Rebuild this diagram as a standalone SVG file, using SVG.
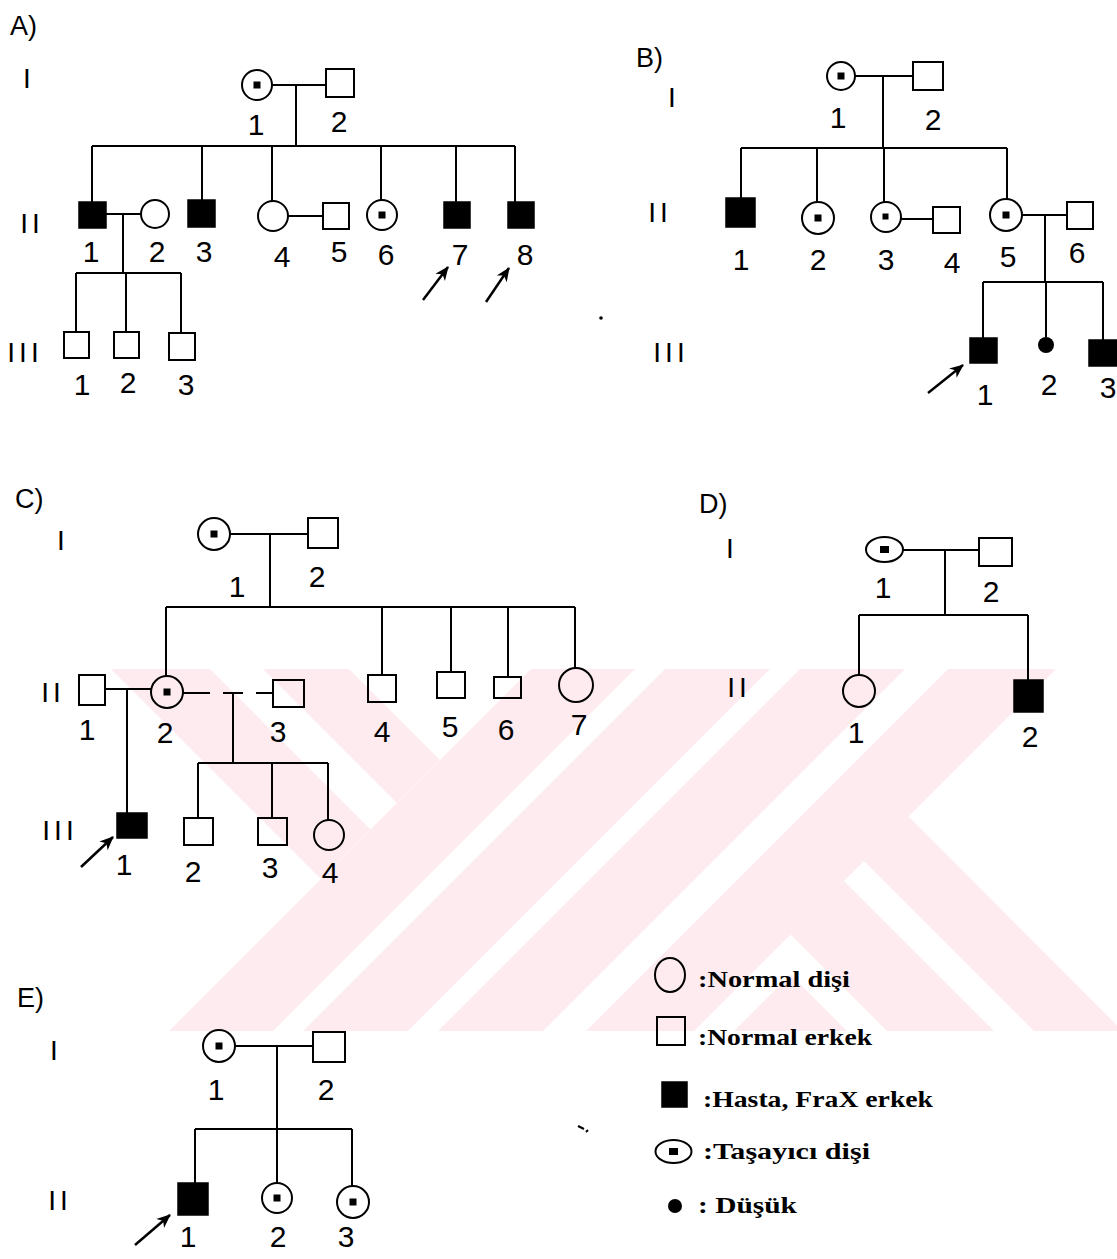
<svg xmlns="http://www.w3.org/2000/svg" width="1117" height="1259" viewBox="0 0 1117 1259">
<defs>
<style>
.ln{stroke:#000;stroke-width:2;fill:none}
.o{fill:none;stroke:#000;stroke-width:2}
.s{fill:#000;stroke:#000;stroke-width:1.5}
.k{fill:#000}
.t{font-family:"Liberation Sans",Arial,sans-serif;font-size:30px;fill:#000;text-anchor:middle}
.g{font-family:"Liberation Sans",Arial,sans-serif;font-size:28px;fill:#000;letter-spacing:4px;text-anchor:middle}
.h{font-family:"Liberation Sans",Arial,sans-serif;font-size:27px;fill:#000}
.lg{font-family:"Liberation Serif","Times New Roman",serif;font-weight:bold;font-size:24px;fill:#000}
.wm{fill:#fdebef}
.wh{fill:#fff}
.ar{stroke:#000;stroke-width:2.5;fill:none;marker-end:url(#ah)}
</style>
<marker id="ah" markerWidth="16" markerHeight="14" refX="13" refY="7" orient="auto" markerUnits="userSpaceOnUse"><path d="M0,1 L14,7 L0,13 L4,7 z" fill="#000"/></marker>
<clipPath id="wc"><rect x="100" y="669" width="1017" height="362"/></clipPath>
</defs>
<rect width="1117" height="1259" fill="#fff"/>

<g id="watermark" clip-path="url(#wc)">
<polygon class="wm" points="111,669 349,669 440,760 321,879"/>
<polygon class="wh" points="210,669 263,669 397,803 370.5,829.5"/>
<polygon class="wm" points="531,669 1056,669 694,1031 169,1031"/>
<polygon class="wh" points="635,669 665,669 303,1031 273,1031"/>
<polygon class="wh" points="770,669 800,669 438,1031 408,1031"/>
<polygon class="wh" points="905,669 948,669 586,1031 543,1031"/>
<polygon class="wm" points="908.5,816.5 1117,1025.5 1117,1031 887,1031 790.5,934.5"/>
<polygon class="wh" points="864,861 1034,1031 994,1031 844,881"/>
<polygon class="wm" points="790.5,974.5 847,1031 734,1031"/>
</g>

<g id="titles">
<text class="h" x="10" y="35">A)</text>
<text class="h" x="636" y="67">B)</text>
<text class="h" x="15" y="508">C)</text>
<text class="h" x="699" y="513">D)</text>
<text class="h" x="17" y="1007">E)</text>
</g>

<g id="generations">
<text class="g" x="29" y="88">I</text>
<text class="g" x="32" y="233">II</text>
<text class="g" x="25" y="362">III</text>
<text class="g" x="674" y="107">I</text>
<text class="g" x="660" y="222">II</text>
<text class="g" x="671" y="362">III</text>
<text class="g" x="63" y="550">I</text>
<text class="g" x="53" y="702">II</text>
<text class="g" x="60" y="840">III</text>
<text class="g" x="732" y="558">I</text>
<text class="g" x="739" y="697">II</text>
<text class="g" x="56" y="1060">I</text>
<text class="g" x="60" y="1210">II</text>
</g>

<g id="connectors">
<path class="ln" d="M272,85 H326 M296,85 V146 M92,146 H515 M92,146 V202 M202,146 V200 M272,146 V201 M381,146 V200 M456,146 V202 M515,146 V202 M106,214 H141 M123,214 V273 M76,273 H181 M76,273 V332 M126,273 V332 M181,273 V333 M288,216 H323"/>
<path class="ln" d="M855,76 H913 M883,76 V148 M741,148 H1007 M741,148 V198 M817,148 V202 M884,148 V202 M1007,148 V199 M901,219 H933 M1022,215 H1067 M1045,215 V282 M983,282 H1103 M983,282 V338 M1046,282 V337 M1103,282 V340"/>
<path class="ln" d="M230,534 H308 M270,534 V607 M166,607 H575 M166,607 V676 M382,607 V675 M451,607 V672 M508,607 V677 M575,607 V668 M105,689 H151 M127,689 V813 M183,693 H210 M223,693 H243 M233,693 V763 M256,693 H273 M198,763 H328 M198,763 V818 M272,763 V818 M328,763 V820"/>
<path class="ln" d="M903,550 H979 M945,550 V615 M859,615 H1028 M859,615 V675 M1028,615 V680"/>
<path class="ln" d="M235,1046 H313 M277,1046 V1129 M195,1129 H352 M195,1129 V1183 M277,1129 V1183 M352,1129 V1186"/>
<line class="ar" x1="423" y1="300" x2="448" y2="267"/>
<line class="ar" x1="486" y1="302" x2="509" y2="268"/>
<line class="ar" x1="928" y1="393" x2="963" y2="365"/>
<line class="ar" x1="81" y1="867" x2="113" y2="837"/>
<line class="ar" x1="135" y1="1245" x2="170" y2="1215"/>
</g>

<g id="A-I-1"><circle class="o" cx="257" cy="85" r="15"/><rect class="k" x="253.5" y="81.5" width="7" height="7"/><text class="t" x="256" y="135">1</text></g>
<g id="A-I-2"><rect class="o" x="326" y="69" width="28" height="28"/><text class="t" x="339" y="132">2</text></g>
<g id="A-II-1"><rect class="s" x="79" y="202" width="27" height="26"/><text class="t" x="91" y="262">1</text></g>
<g id="A-II-2"><circle class="o" cx="155" cy="214" r="14"/><text class="t" x="157" y="262">2</text></g>
<g id="A-II-3"><rect class="s" x="188" y="200" width="27" height="27"/><text class="t" x="204" y="262">3</text></g>
<g id="A-II-4"><circle class="o" cx="273" cy="216" r="15"/><text class="t" x="282" y="267">4</text></g>
<g id="A-II-5"><rect class="o" x="323" y="203" width="26" height="26"/><text class="t" x="339" y="262">5</text></g>
<g id="A-II-6"><circle class="o" cx="382" cy="215" r="15"/><rect class="k" x="378.5" y="211.5" width="7" height="7"/><text class="t" x="386" y="265">6</text></g>
<g id="A-II-7"><rect class="s" x="444" y="202" width="26" height="26"/><text class="t" x="460" y="265">7</text></g>
<g id="A-II-8"><rect class="s" x="508" y="202" width="26" height="26"/><text class="t" x="525" y="265">8</text></g>
<g id="A-III-1"><rect class="o" x="64" y="332" width="25" height="26"/><text class="t" x="82" y="395">1</text></g>
<g id="A-III-2"><rect class="o" x="114" y="332" width="25" height="26"/><text class="t" x="128" y="393">2</text></g>
<g id="A-III-3"><rect class="o" x="169" y="333" width="26" height="27"/><text class="t" x="186" y="395">3</text></g>

<g id="B-I-1"><circle class="o" cx="841" cy="76" r="14"/><rect class="k" x="837.5" y="72.5" width="7" height="7"/><text class="t" x="838" y="128">1</text></g>
<g id="B-I-2"><rect class="o" x="913" y="62" width="30" height="28"/><text class="t" x="933" y="130">2</text></g>
<g id="B-II-1"><rect class="s" x="726" y="198" width="29" height="29"/><text class="t" x="741" y="270">1</text></g>
<g id="B-II-2"><circle class="o" cx="818" cy="218" r="16"/><rect class="k" x="814.5" y="214.5" width="7" height="7"/><text class="t" x="818" y="270">2</text></g>
<g id="B-II-3"><circle class="o" cx="886" cy="217" r="15"/><rect class="k" x="882.5" y="213.5" width="6" height="6"/><text class="t" x="886" y="270">3</text></g>
<g id="B-II-4"><rect class="o" x="933" y="207" width="27" height="26"/><text class="t" x="952" y="273">4</text></g>
<g id="B-II-5"><circle class="o" cx="1006" cy="215" r="16"/><rect class="k" x="1002.5" y="211.5" width="7" height="7"/><text class="t" x="1008" y="267">5</text></g>
<g id="B-II-6"><rect class="o" x="1067" y="202" width="26" height="27"/><text class="t" x="1077" y="263">6</text></g>
<g id="B-III-1"><rect class="s" x="970" y="338" width="27" height="25"/><text class="t" x="985" y="405">1</text></g>
<g id="B-III-2"><circle class="k" cx="1046" cy="345" r="8"/><text class="t" x="1049" y="395">2</text></g>
<g id="B-III-3"><rect class="s" x="1089" y="340" width="28" height="26"/><text class="t" x="1108" y="398">3</text></g>

<g id="C-I-1"><circle class="o" cx="214" cy="534" r="16"/><rect class="k" x="210.5" y="530.5" width="7" height="7"/><text class="t" x="237" y="597">1</text></g>
<g id="C-I-2"><rect class="o" x="308" y="518" width="30" height="30"/><text class="t" x="317" y="587">2</text></g>
<g id="C-II-1"><rect class="o" x="79" y="675" width="26" height="30"/><text class="t" x="87" y="740">1</text></g>
<g id="C-II-2"><circle class="o" cx="167" cy="692" r="16"/><rect class="k" x="163.5" y="688.5" width="7" height="7"/><text class="t" x="165" y="743">2</text></g>
<g id="C-II-3"><rect class="o" x="273" y="680" width="31" height="27"/><text class="t" x="278" y="742">3</text></g>
<g id="C-II-4"><rect class="o" x="368" y="675" width="28" height="27"/><text class="t" x="382" y="742">4</text></g>
<g id="C-II-5"><rect class="o" x="437" y="672" width="28" height="26"/><text class="t" x="450" y="737">5</text></g>
<g id="C-II-6"><rect class="o" x="494" y="677" width="27" height="21"/><text class="t" x="506" y="740">6</text></g>
<g id="C-II-7"><circle class="o" cx="576" cy="685" r="17"/><text class="t" x="579" y="735">7</text></g>
<g id="C-III-1"><rect class="s" x="117" y="813" width="30" height="25"/><text class="t" x="124" y="875">1</text></g>
<g id="C-III-2"><rect class="o" x="184" y="818" width="29" height="27"/><text class="t" x="193" y="882">2</text></g>
<g id="C-III-3"><rect class="o" x="258" y="818" width="29" height="27"/><text class="t" x="270" y="878">3</text></g>
<g id="C-III-4"><circle class="o" cx="329" cy="835" r="15"/><text class="t" x="330" y="883">4</text></g>

<g id="D-I-1"><ellipse class="o" cx="884.5" cy="549.5" rx="18.5" ry="12.5"/><rect class="k" x="880" y="546" width="9" height="7"/><text class="t" x="883" y="598">1</text></g>
<g id="D-I-2"><rect class="o" x="979" y="538" width="33" height="28"/><text class="t" x="991" y="602">2</text></g>
<g id="D-II-1"><circle class="o" cx="859" cy="691" r="16"/><text class="t" x="856" y="743">1</text></g>
<g id="D-II-2"><rect class="s" x="1014" y="680" width="29" height="32"/><text class="t" x="1030" y="747">2</text></g>

<g id="E-I-1"><circle class="o" cx="219" cy="1046" r="16"/><rect class="k" x="215.5" y="1042.5" width="7" height="7"/><text class="t" x="216" y="1100">1</text></g>
<g id="E-I-2"><rect class="o" x="313" y="1032" width="32" height="30"/><text class="t" x="326" y="1100">2</text></g>
<g id="E-II-1"><rect class="s" x="178" y="1183" width="30" height="32"/><text class="t" x="188" y="1247">1</text></g>
<g id="E-II-2"><circle class="o" cx="277" cy="1198" r="15"/><rect class="k" x="273.5" y="1194.5" width="7" height="7"/><text class="t" x="278" y="1247">2</text></g>
<g id="E-II-3"><circle class="o" cx="353" cy="1202" r="16"/><rect class="k" x="349.5" y="1198.5" width="7" height="7"/><text class="t" x="346" y="1247">3</text></g>

<g id="legend-normal-female"><ellipse class="o" cx="670" cy="975" rx="15" ry="17"/><text class="lg" x="698" y="987" textLength="152" lengthAdjust="spacingAndGlyphs">:Normal dişi</text></g>
<g id="legend-normal-male"><rect class="o" x="657" y="1017" width="28" height="28"/><text class="lg" x="698" y="1045" textLength="174" lengthAdjust="spacingAndGlyphs">:Normal erkek</text></g>
<g id="legend-affected-male"><rect class="s" x="662" y="1082" width="25" height="25"/><text class="lg" x="703" y="1107" textLength="230" lengthAdjust="spacingAndGlyphs">:Hasta, FraX erkek</text></g>
<g id="legend-carrier"><ellipse class="o" cx="673.5" cy="1151.5" rx="18" ry="11.5"/><rect class="k" x="669" y="1148" width="9" height="7"/><text class="lg" x="703" y="1159" textLength="167" lengthAdjust="spacingAndGlyphs">:Taşayıcı dişi</text></g>
<g id="legend-miscarriage"><circle class="k" cx="675" cy="1206" r="7"/><text class="lg" x="698" y="1213" textLength="99" lengthAdjust="spacingAndGlyphs">: Düşük</text></g>

<g id="specks"><circle class="k" cx="601" cy="318" r="1.8"/><path class="ln" d="M578,1126 L584,1129 M586,1132 L588,1130" stroke-width="1.5"/></g>
</svg>
